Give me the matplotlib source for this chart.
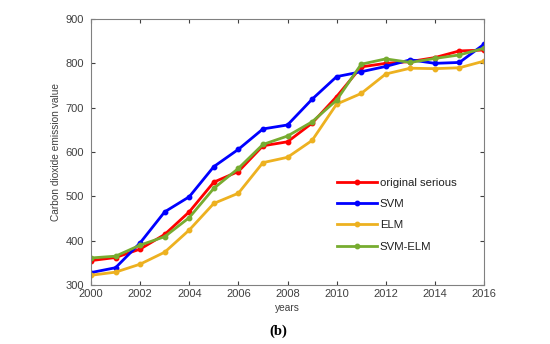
#!/usr/bin/env python3
"""Carbon dioxide emission: original series vs SVM / ELM / SVM-ELM forecasts."""

import matplotlib

matplotlib.use("Agg", force=True)
import matplotlib.pyplot as plt

years = list(range(2000, 2017))
original = [355, 362, 381, 414, 465, 532, 556, 614, 623, 665, 725, 792, 800, 804, 813, 828, 830]
svm = [328, 339, 395, 465, 499, 567, 606, 652, 661, 719, 770, 781, 793, 808, 800, 802, 843]
elm = [322, 329, 347, 374, 424, 484, 507, 576, 588, 626, 708, 732, 776, 789, 788, 790, 805]
svm_elm = [361, 365, 390, 409, 452, 518, 563, 617, 636, 668, 717, 798, 810, 802, 811, 819, 834]

series = [
    ("original serious", original, "#ff0000"),
    ("SVM", svm, "#0000ff"),
    ("ELM", elm, "#edb120"),
    ("SVM-ELM", svm_elm, "#77ac30"),
]

plt.rcParams["font.family"] = ["Liberation Sans", "DejaVu Sans"]
grey = "#404040"

fig = plt.figure(figsize=(5.5, 3.44), dpi=100)
ax = fig.add_axes([91 / 550, 1 - 285 / 344, 393 / 550, 266 / 344])

for label, values, color in series:
    ax.plot(years, values, color=color, linewidth=2.0, marker="o", markersize=3.2, label=label)

ax.set_xlim(2000, 2016)
ax.set_ylim(300, 900)
ax.set_xticks(range(2000, 2017, 2))
ax.set_yticks(range(300, 901, 100))
ax.tick_params(direction="in", length=3, width=0.8, colors=grey, labelsize=8,
               top=True, right=True)
ax.tick_params(axis="y", pad=5)
ax.tick_params(axis="x", pad=3)
for spine in ax.spines.values():
    spine.set_color("#808080")
    spine.set_linewidth(0.8)

ax.set_xlabel("years", fontsize=7.3, color=grey, labelpad=3)
ax.set_ylabel("Carbon dioxide emission value", fontsize=7.3, color=grey, labelpad=3)

ax.legend(loc="upper left", bbox_to_anchor=(0.626, 0.404), frameon=False, fontsize=8.2,
          borderpad=0, borderaxespad=0, handlelength=3.5, handletextpad=0.26,
          labelspacing=1.0, labelcolor="#202020")

fig.text(0.506, 1 - 331 / 344, "(b)", ha="center", va="center",
         family=["Liberation Serif", "DejaVu Serif"], fontsize=10.5, fontweight="bold")

fig.savefig("out.png", dpi=100)
